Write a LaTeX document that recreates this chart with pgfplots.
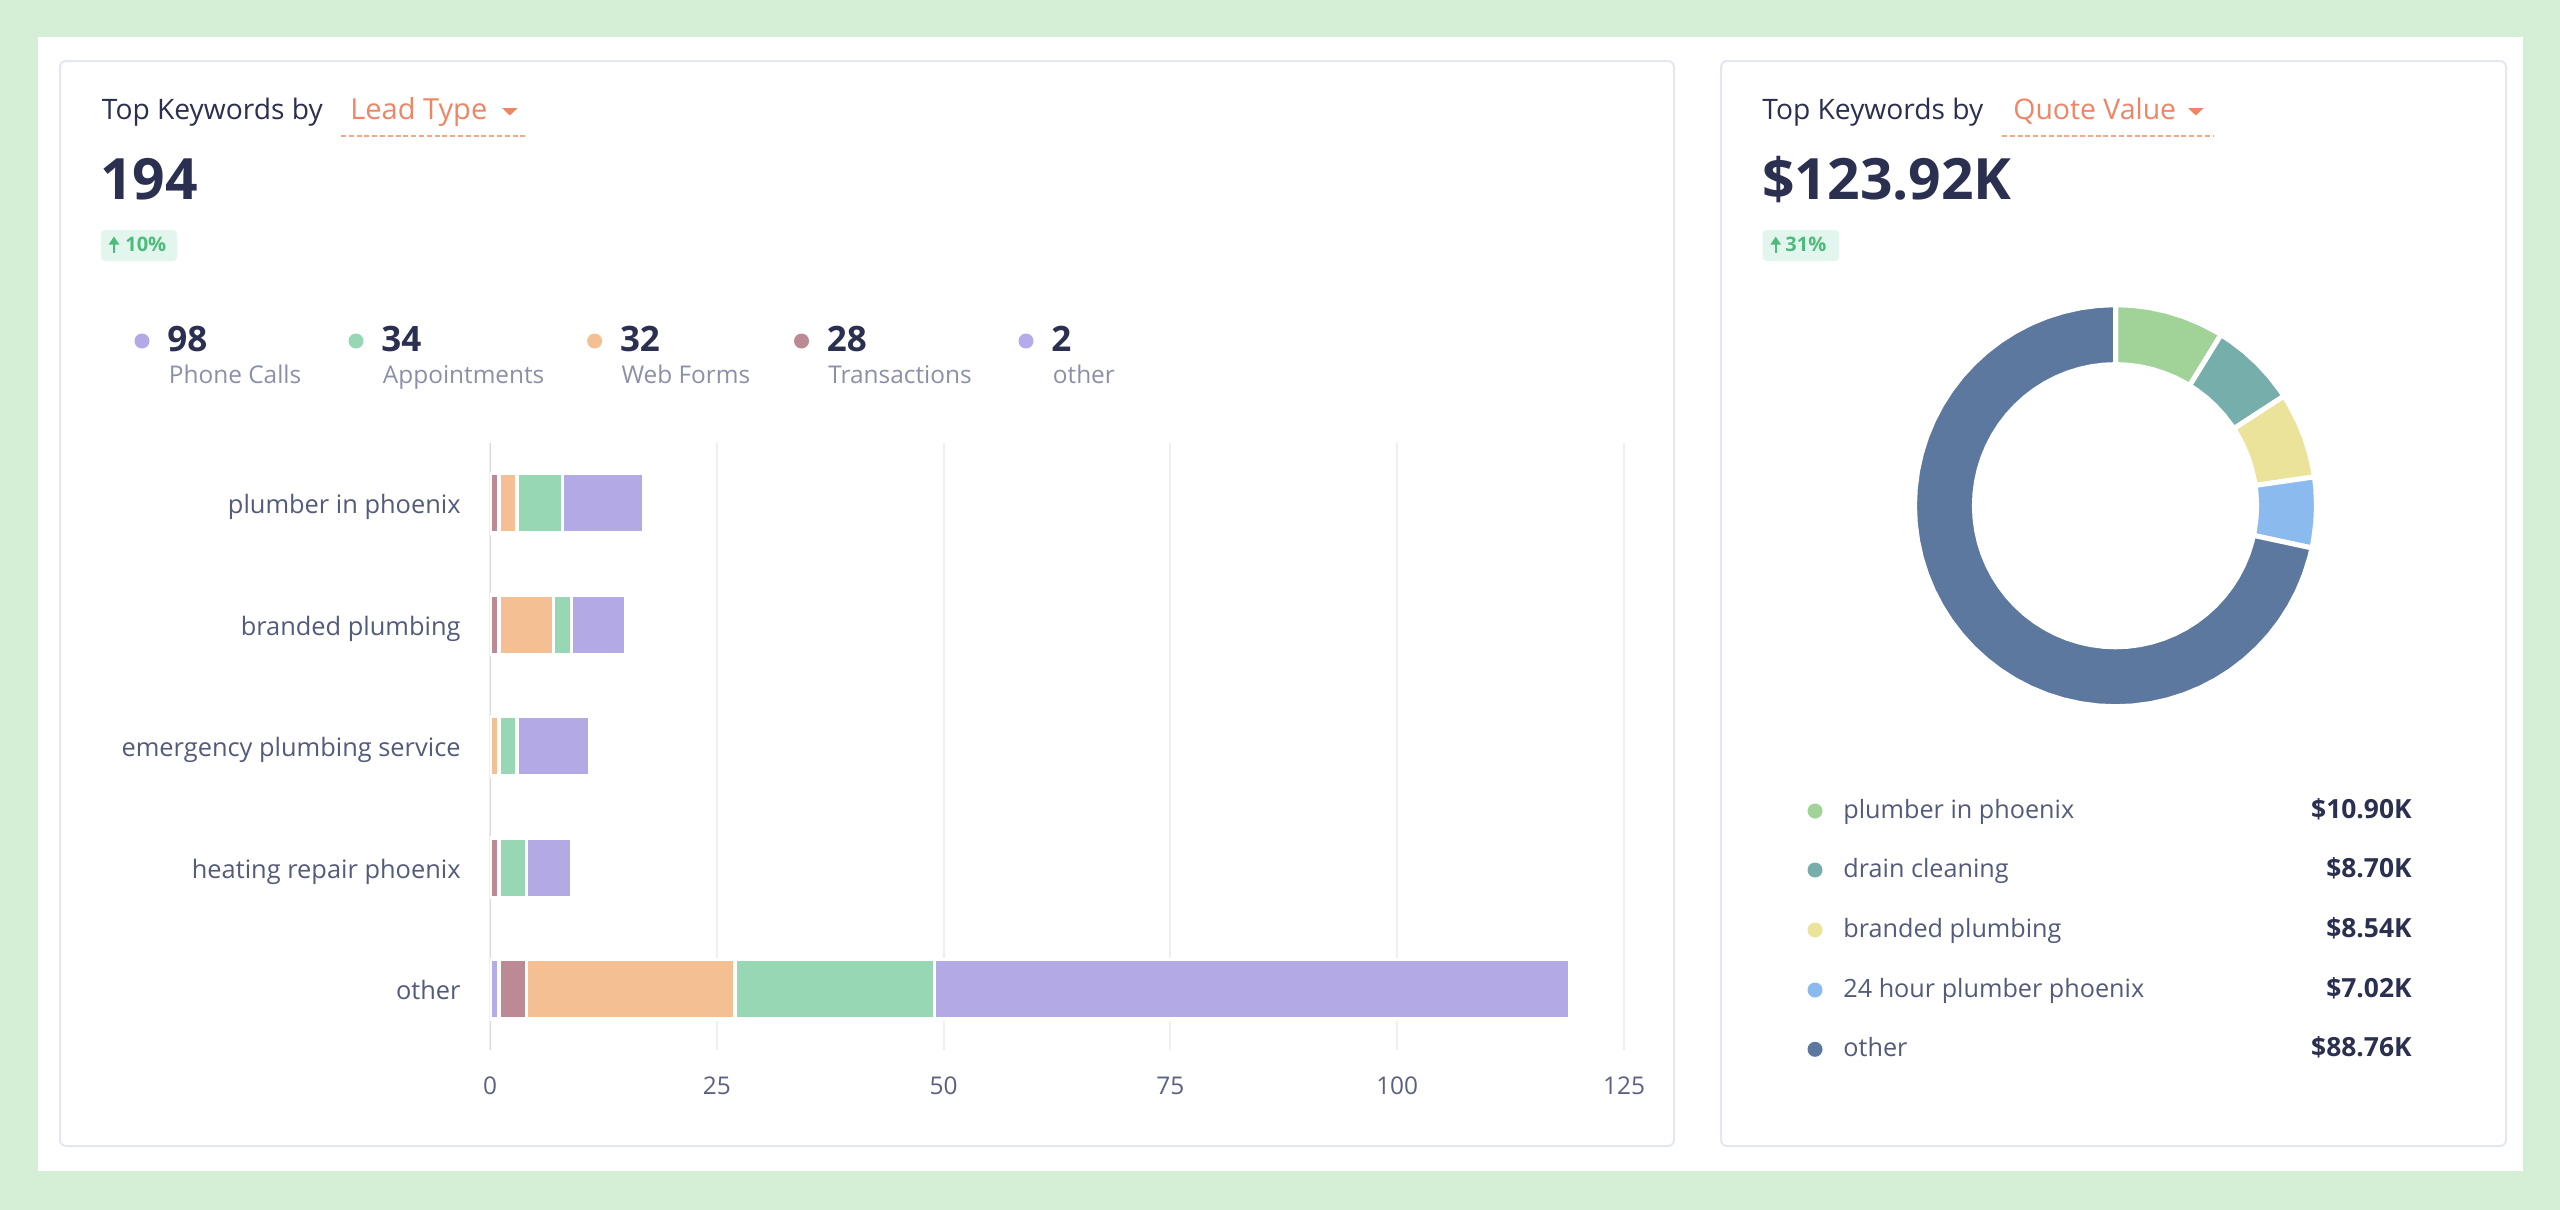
\documentclass[border=0pt]{standalone}
\usepackage{fontspec}
\setmainfont{Open Sans}
\usepackage{pgfplots}
\pgfplotsset{compat=1.18}
\usepackage{pgfplotstable}
\usetikzlibrary{arrows.meta}

\definecolor{bggreen}{HTML}{D5EED6}
\definecolor{cardline}{HTML}{E3E7EF}
\definecolor{navy}{HTML}{2C3050}
\definecolor{catc}{HTML}{535B7B}
\definecolor{legc}{HTML}{8B90A9}
\definecolor{tickc}{HTML}{5B6180}
\definecolor{salmon}{HTML}{EE8565}
\definecolor{dashc}{HTML}{F2A888}
\definecolor{badgef}{HTML}{E3F6ED}
\definecolor{badget}{HTML}{4DBB7C}
\definecolor{gridc}{HTML}{EDEFF3}
\definecolor{axisc}{HTML}{D6DAF0}
\definecolor{cPhone}{HTML}{B3A9E5}
\definecolor{cAppt}{HTML}{98D7B3}
\definecolor{cWeb}{HTML}{F4BF92}
\definecolor{cTrans}{HTML}{BC8A94}
\definecolor{cOther}{HTML}{B4ABE8}
\definecolor{qPlumb}{HTML}{A1D399}
\definecolor{qDrain}{HTML}{76AEAB}
\definecolor{qBrand}{HTML}{EBE39A}
\definecolor{qHour}{HTML}{8BBBEE}
\definecolor{qOther}{HTML}{5D789F}

% leads per keyword, bottom row (pos 0) = other
\pgfplotstableread{
pos other trans web appt phone
0   1     3     23  22   70
1   0     1     0   3    5
2   0     0     1   2    8
3   0     1     6   2    6
4   0     1     2   5    9
}\leadtable

\newcommand{\fs}[1]{\fontsize{#1}{#1}\selectfont}

\begin{document}
\begin{tikzpicture}[x=0.5pt,y=-0.5pt]
% page and cards
\fill[bggreen] (0,0) rectangle (2560,1210);
\fill[white] (38,37) rectangle (2523,1171);
\draw[cardline, line width=1pt, rounded corners=3pt] (60,61) rectangle (1674,1146);
\draw[cardline, line width=1pt, rounded corners=3pt] (1721,61) rectangle (2506,1146);

% ---- left card header
\node[anchor=base west, inner sep=0, text=navy, font=\fs{14.1pt}] at (101.5,119.3) {Top Keywords by};
\node[anchor=base west, inner sep=0, text=salmon, font=\fs{14.5pt}] at (350,119.3) {Lead Type};
\fill[salmon] (502,108) -- (517.6,108) -- (509.8,115.5) -- cycle;
\draw[dashc, line width=1.25pt, dash pattern=on 2.5pt off 1.4pt] (341,136) -- (527,136);
\node[anchor=base west, inner sep=0, text=navy, font=\bfseries\fs{28.5pt}] at (100,199.3) {194};
\fill[badgef, rounded corners=2pt] (101,230) rectangle (177,261);
\draw[badget, line width=1.1pt, -{Triangle[length=4pt,width=5pt]}] (114,253) -- (114,236.5);
\node[anchor=base west, inner sep=0, text=badget, font=\bfseries\fs{10pt}] at (125,251.7) {10\%};

% legend row
\foreach \x/\c/\n/\l in {142/cPhone/98/Phone Calls, 356/cAppt/34/Appointments,
    594.6/cWeb/32/Web Forms, 801.5/cTrans/28/Transactions, 1026/cOther/2/other} {
  \fill[\c] (\x,341) circle[radius=3.75pt];
  \node[anchor=base west, inner sep=0, text=navy, font=\bfseries\fs{17.5pt}] at ({\x+25},351.7) {\n};
  \node[anchor=base west, inner sep=0, text=legc, font=\fs{12.2pt}] at ({\x+26.5},383.3) {\l};
}

% ---- right card header
\node[anchor=base west, inner sep=0, text=navy, font=\fs{14.1pt}] at (1762,119.3) {Top Keywords by};
\node[anchor=base west, inner sep=0, text=salmon, font=\fs{14.2pt}] at (2013,119.3) {Quote Value};
\fill[salmon] (2188,108) -- (2203.6,108) -- (2195.8,115.5) -- cycle;
\draw[dashc, line width=1.25pt, dash pattern=on 2.5pt off 1.4pt] (2002,136) -- (2214,136);
\node[anchor=base west, inner sep=0, text=navy, font=\bfseries\fs{28.5pt}] at (1762,199.3) {\$123.92K};
\fill[badgef, rounded corners=2pt] (1762.5,230) rectangle (1839,261);
\draw[badget, line width=1.1pt, -{Triangle[length=4pt,width=5pt]}] (1775.7,253) -- (1775.7,236.5);
\node[anchor=base west, inner sep=0, text=badget, font=\bfseries\fs{10pt}] at (1785,251.7) {31\%};

% donut legend
\foreach \y/\c/\l/\v in {811/qPlumb/plumber in phoenix/\$10.90K, 870/qDrain/drain cleaning/\$8.70K,
    930/qBrand/branded plumbing/\$8.54K, 990/qHour/24 hour plumber phoenix/\$7.02K,
    1049.3/qOther/other/\$88.76K} {
  \fill[\c] (1815,\y) circle[radius=3.75pt];
  \node[anchor=base west, inner sep=0, text=catc, font=\fs{12.6pt}] at (1843,{\y+7}) {\l};
  \node[anchor=base east, inner sep=0, text=navy, font=\bfseries\fs{13.2pt}] at (2412,{\y+7.5}) {\v};
}

% ---- stacked bars
\begin{axis}[
  at={(245pt,-525pt)}, anchor=south west,
  scale only axis, width=567pt, height=303.75pt,
  xbar stacked, bar width=0.49,
  xmin=0, xmax=125, ymin=-0.5, ymax=4.5,
  xtick={0,25,50,75,100,125},
  ytick={0,1,2,3,4},
  yticklabels={other,heating repair phoenix,emergency plumbing service,branded plumbing,plumber in phoenix},
  axis line style={draw=none},
  major tick length=0pt,
  xmajorgrids, grid style={draw=gridc, line width=1pt},
  /pgf/number format/assume math mode=true,
  xticklabel style={anchor=base, inner sep=0pt, yshift=-22pt, text=tickc, font=\fs{12.2pt}},
  yticklabel style={anchor=base east, inner sep=0pt, xshift=-14.5pt, yshift=-5.2pt, text=catc, font=\fs{12.7pt}},
  every axis plot/.append style={draw=white, line width=1.75pt},
]
\addplot[fill=cOther] table[x=other, y=pos] {\leadtable};
\addplot[fill=cTrans] table[x=trans, y=pos] {\leadtable};
\addplot[fill=cWeb]   table[x=web,   y=pos] {\leadtable};
\addplot[fill=cAppt]  table[x=appt,  y=pos] {\leadtable};
\addplot[fill=cPhone] table[x=phone, y=pos] {\leadtable};
\draw[axisc, line width=1pt] (rel axis cs:0,0) -- (rel axis cs:0,1);
\end{axis}

% ---- donut: 10.90, 8.70, 8.54, 7.02, 88.76 (K$), clockwise from top
\begin{axis}[
  at={(1057.75pt,-252.85pt)}, anchor=center,
  scale only axis, width=201pt, height=201pt,
  xmin=-1, xmax=1, ymin=-1, ymax=1, hide axis, clip=false,
  every axis plot/.append style={draw=white, line width=2.5pt},
]
\addplot[fill=qPlumb, data cs=polar] coordinates {
  (90,1) (85,1) (80,1) (75,1) (70,1) (65,1) (60,1) (58.334,1)
  (58.334,0.702) (60,0.702) (65,0.702) (70,0.702) (75,0.702) (80,0.702) (85,0.702) (90,0.702)} -- cycle;
\addplot[fill=qDrain, data cs=polar] coordinates {
  (58.334,1) (55,1) (50,1) (45,1) (40,1) (35,1) (33.06,1)
  (33.06,0.702) (35,0.702) (40,0.702) (45,0.702) (50,0.702) (55,0.702) (58.334,0.702)} -- cycle;
\addplot[fill=qBrand, data cs=polar] coordinates {
  (33.06,1) (30,1) (25,1) (20,1) (15,1) (10,1) (8.251,1)
  (8.251,0.702) (10,0.702) (15,0.702) (20,0.702) (25,0.702) (30,0.702) (33.06,0.702)} -- cycle;
\addplot[fill=qHour, data cs=polar] coordinates {
  (8.251,1) (5,1) (0,1) (-5,1) (-10,1) (-12.143,1)
  (-12.143,0.702) (-10,0.702) (-5,0.702) (0,0.702) (5,0.702) (8.251,0.702)} -- cycle;
\addplot[fill=qOther, data cs=polar] coordinates {
  (-12.143,1) (-15,1) (-20,1) (-25,1) (-30,1) (-35,1) (-40,1) (-45,1) (-50,1) (-55,1)
  (-60,1) (-65,1) (-70,1) (-75,1) (-80,1) (-85,1) (-90,1) (-95,1) (-100,1) (-105,1)
  (-110,1) (-115,1) (-120,1) (-125,1) (-130,1) (-135,1) (-140,1) (-145,1) (-150,1) (-155,1)
  (-160,1) (-165,1) (-170,1) (-175,1) (-180,1) (-185,1) (-190,1) (-195,1) (-200,1) (-205,1)
  (-210,1) (-215,1) (-220,1) (-225,1) (-230,1) (-235,1) (-240,1) (-245,1) (-250,1) (-255,1)
  (-260,1) (-265,1) (-270,1)
  (-270,0.702) (-265,0.702) (-260,0.702) (-255,0.702) (-250,0.702) (-245,0.702) (-240,0.702)
  (-235,0.702) (-230,0.702) (-225,0.702) (-220,0.702) (-215,0.702) (-210,0.702) (-205,0.702)
  (-200,0.702) (-195,0.702) (-190,0.702) (-185,0.702) (-180,0.702) (-175,0.702) (-170,0.702)
  (-165,0.702) (-160,0.702) (-155,0.702) (-150,0.702) (-145,0.702) (-140,0.702) (-135,0.702)
  (-130,0.702) (-125,0.702) (-120,0.702) (-115,0.702) (-110,0.702) (-105,0.702) (-100,0.702)
  (-95,0.702) (-90,0.702) (-85,0.702) (-80,0.702) (-75,0.702) (-70,0.702) (-65,0.702)
  (-60,0.702) (-55,0.702) (-50,0.702) (-45,0.702) (-40,0.702) (-35,0.702) (-30,0.702)
  (-25,0.702) (-20,0.702) (-15,0.702) (-12.143,0.702)} -- cycle;
\end{axis}
\end{tikzpicture}
\end{document}
